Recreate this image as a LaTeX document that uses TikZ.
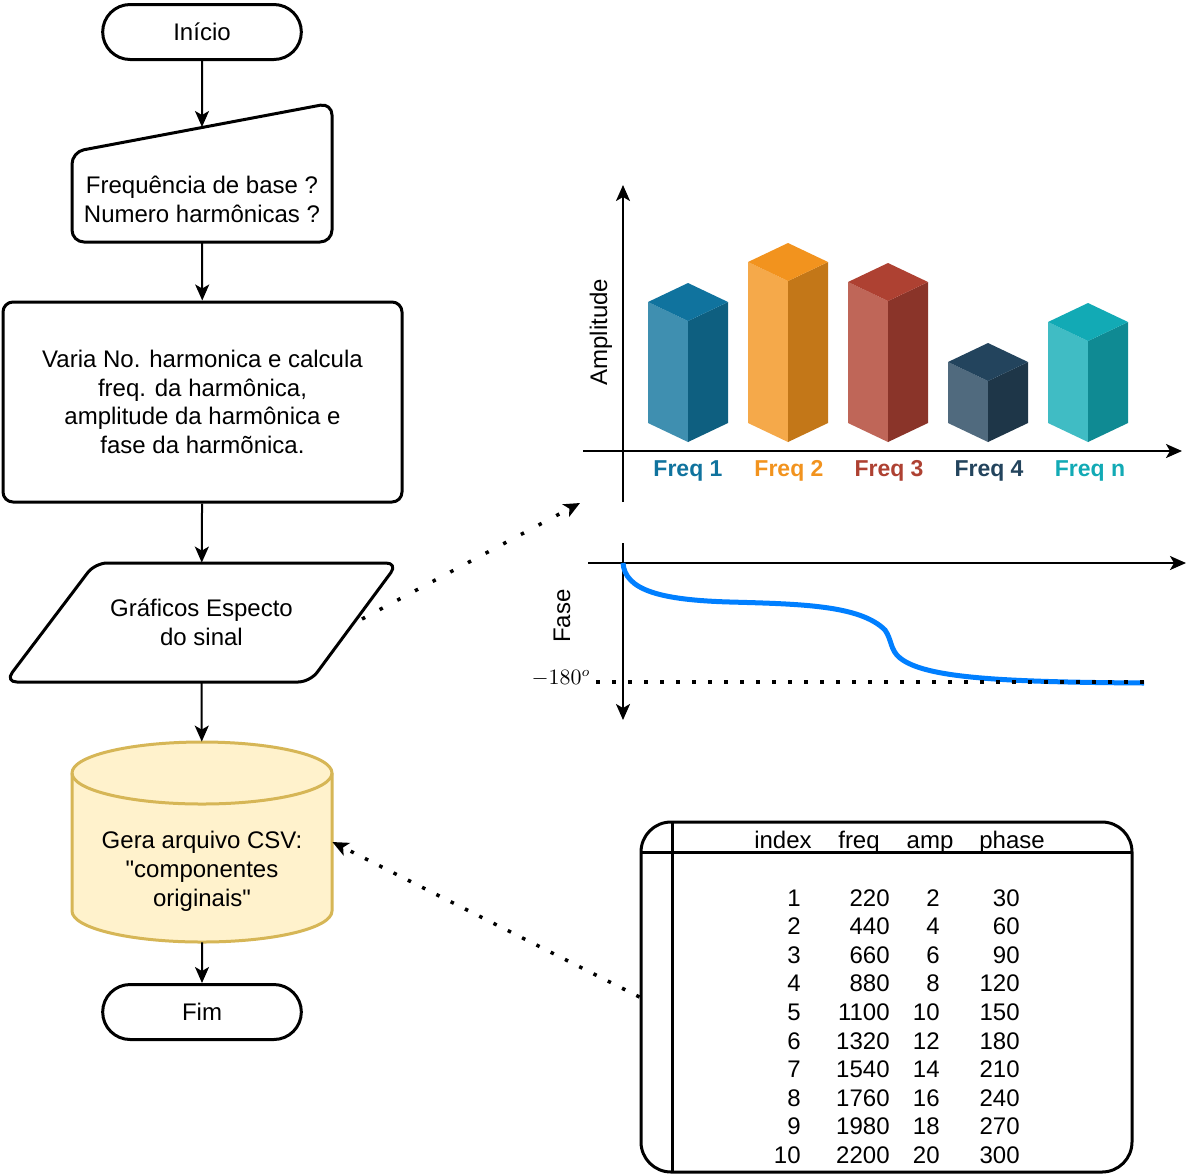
\documentclass[tikz,border=0pt]{standalone}
\usepackage{fontspec}
\setmainfont{Liberation Sans}
\usetikzlibrary{arrows.meta,positioning,calc,shapes.misc}

\definecolor{csvfill}{HTML}{FFF2CC}
\definecolor{csvdraw}{HTML}{D6B656}
\definecolor{fasecurve}{HTML}{007FFF}
\definecolor{f1top}{HTML}{10739E}\definecolor{f1left}{HTML}{3F8FB0}\definecolor{f1right}{HTML}{0E5F80}
\definecolor{f2top}{HTML}{F2931E}\definecolor{f2left}{HTML}{F5A94A}\definecolor{f2right}{HTML}{C37718}
\definecolor{f3top}{HTML}{AE4132}\definecolor{f3left}{HTML}{BF6658}\definecolor{f3right}{HTML}{8A3429}
\definecolor{f4top}{HTML}{23445D}\definecolor{f4left}{HTML}{506A7E}\definecolor{f4right}{HTML}{1E3648}
\definecolor{f5top}{HTML}{12AAB5}\definecolor{f5left}{HTML}{40BCC4}\definecolor{f5right}{HTML}{0F8A93}

\begin{document}
\begin{tikzpicture}[
    x=0.5pt, y=-0.5pt,
    font=\fontsize{12}{14.4}\selectfont,
    >={Stealth[length=8pt, width=7pt, inset=2pt]},
    terminal/.style={rounded rectangle, draw, line width=1.5pt, minimum width=106pt, minimum height=27.5pt},
    procbox/.style={rectangle, draw, line width=1.5pt, rounded corners=5pt, minimum width=199.5pt, minimum height=100pt, align=center},
    outline/.style={draw, line width=1.5pt, rounded corners=6pt, line join=round},
    boxarea/.style={inner sep=0pt, align=center},
    flow/.style={->, line width=1pt},
    axis/.style={->, line width=1pt},
    dotarrow/.style={->, line width=1.75pt, dash pattern=on 1.75pt off 6.25pt},
    dotline/.style={line width=1.75pt, dash pattern=on 1.75pt off 6.25pt},
    freqlbl/.style={font=\fontsize{11.5}{14}\selectfont\bfseries},
    cell/.style={inner sep=0pt}
]
\fill[white] (0,0) rectangle (1204,1174);
\useasboundingbox (0,0) rectangle (1204,1174);

% Flowchart (left column)
\node[terminal] (inicio) at (202,32) {Início};

\draw[outline] (72,152) -- (332,103) -- (332,242) -- (72,242) -- cycle;
\node[boxarea, minimum width=130pt, minimum height=43pt] (entrada) at (202,199) {Frequência de base ?\\ Numero harmônicas ?};
\coordinate (entradaTop) at (202,127);

\node[procbox] (proc) at (202.5,402) {Varia No. harmonica e calcula\\ freq. da harmônica,\\ amplitude da harmônica e\\ fase da harmõnica.};

\draw[outline] (95,563) -- (398,563) -- (310,682) -- (5,682) -- cycle;
\node[boxarea, minimum width=196.5pt, minimum height=59.5pt] (graf) at (201.5,622.5) {Gráficos Especto\\ do sinal};
\coordinate (grafR) at (362,619);

% Cylinder (CSV)
\filldraw[fill=csvfill, draw=csvdraw, line width=1.5pt] (72,773) -- (72,911)
    arc[start angle=180, end angle=360, x radius=65pt, y radius=15.5pt] -- (332,773)
    arc[start angle=0, end angle=180, x radius=65pt, y radius=15.5pt] -- cycle;
\draw[csvdraw, line width=1.5pt] (72,773) arc[start angle=180, end angle=360, x radius=65pt, y radius=15.5pt];
\node[boxarea, minimum width=130pt, minimum height=100pt] (csv) at (202,842) {};
\node[boxarea] (csvtxt) at (202,871) {Gera arquivo CSV:\\ \textquotedbl componentes\\ originais\textquotedbl};

\node[terminal] (fim) at (202,1012) {Fim};

% Flow connections
\draw[flow] (inicio) -- (entradaTop);
\draw[flow] (entrada) -- (proc);
\draw[flow] (proc) -- (graf);
\draw[flow] (graf) -- (csv);
\draw[flow] (csv) -- (fim);

% Amplitude spectrum
\draw[axis] (623,502) -- (623,185);
\draw[axis] (583,451) -- (1182,451);
\foreach \xm/\st/\c in {688/302/f1, 788/262/f2, 888/282/f3, 988/362/f4, 1088/322/f5} {
    \fill[\c left] (\xm-40,\st) -- (\xm,\st+19) -- (\xm,442) -- (\xm-40,423) -- cycle;
    \fill[\c right] (\xm,\st+19) -- (\xm+40,\st) -- (\xm+40,423) -- (\xm,442) -- cycle;
    \fill[\c top] (\xm-40,\st) -- (\xm,\st-19) -- (\xm+40,\st) -- (\xm,\st+19) -- cycle;
}
\node[freqlbl, text=f1top] (lf1) at (688,471) {Freq 1};
\node[freqlbl, text=f2top] (lf2) at (789,471) {Freq 2};
\node[freqlbl, text=f3top] (lf3) at (889,471) {Freq 3};
\node[freqlbl, text=f4top] (lf4) at (989,471) {Freq 4};
\node[freqlbl, text=f5top] (lf5) at (1090,471) {Freq n};
\node[rotate=90] (ampl) at (601,332) {Amplitude};
\coordinate (espTip) at (580,503);

% Phase spectrum
\draw[axis] (623,543) -- (623,720);
\draw[axis] (588,563) -- (1186,563);
\draw[fasecurve, line width=2.5pt] (623,563) .. controls (625,590) and (660,600) .. (730,602)
    .. controls (800,604) and (860,605) .. (885,630)
    .. controls (892,640) and (890,650) .. (900,658)
    .. controls (925,678) and (1000,682) .. (1144,683);
\draw[dotline] (596,682) -- (1152,682);
\node[rotate=90] (fase) at (562,616) {Fase};
\node (m180) at (561,678) {\fontsize{10.5}{12}\selectfont$-180^o$};

% Table of components
\node[draw, line width=1.5pt, rounded corners=15pt, minimum width=245.5pt, minimum height=175pt] (tabela) at (886.5,997) {};
\draw[line width=1.5pt] (672,822) -- (672,1172);
\draw[line width=1.5pt] (641,852) -- (1132,852);
\node[cell, anchor=base] (hidx) at (783,848) {index};
\node[cell, anchor=base] (hfreq) at (859,848) {freq};
\node[cell, anchor=base] (hamp) at (930,848) {amp};
\node[cell, anchor=base] (hph) at (1012,848) {phase};
\foreach \i/\f/\a/\p [count=\r from 0] in {1/220/2/30, 2/440/4/60, 3/660/6/90, 4/880/8/120, 5/1100/10/150, 6/1320/12/180, 7/1540/14/210, 8/1760/16/240, 9/1980/18/270, 10/2200/20/300} {
    \node[cell, anchor=base east] (ri\i) at (801,{906+\r*28.6}) {\i};
    \node[cell, anchor=base east] (rf\i) at (890,{906+\r*28.6}) {\f};
    \node[cell, anchor=base east] (ra\i) at (940,{906+\r*28.6}) {\a};
    \node[cell, anchor=base east] (rp\i) at (1020,{906+\r*28.6}) {\p};
}

% Dotted links
\draw[dotarrow, dash pattern=on 1.75pt off 8.25pt] (grafR) -- (espTip);
\draw[dotarrow] (tabela.west) -- (csv.east);
\end{tikzpicture}
\end{document}
